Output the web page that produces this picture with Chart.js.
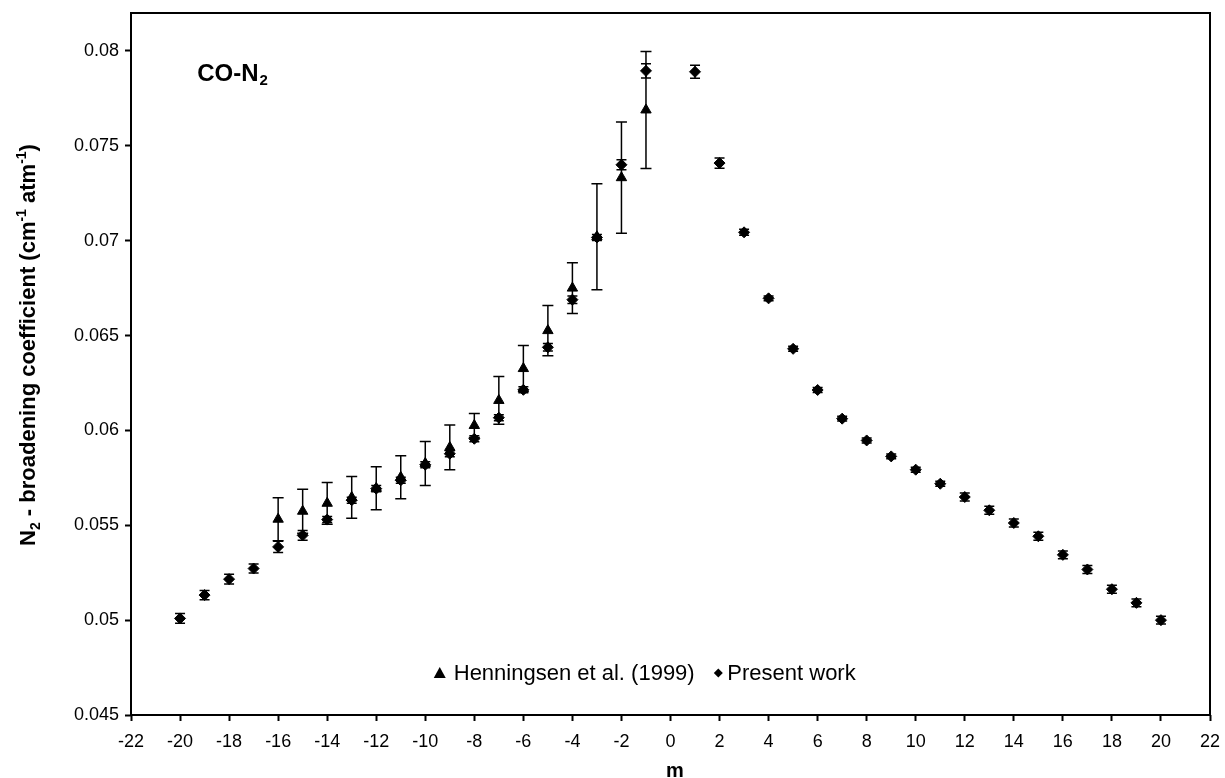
<!DOCTYPE html>
<html lang="en">
<head>
  <meta charset="UTF-8">
  <title>CO-N2 broadening coefficients</title>
  <script src="https://cdn.jsdelivr.net/npm/chart.js"></script>
  <style>
    html, body { margin: 0; padding: 0; background: #fff; }
    #wrap { width: 1225px; height: 778px; }
  </style>
</head>
<body>
<div id="wrap"><canvas id="chart" width="1225" height="778"></canvas></div>

<script>
// rotational index m
const mPresent = [-20, -19, -18, -17, -16, -15, -14, -13, -12, -11, -10, -9, -8, -7, -6, -5, -4, -3, -2, -1,
                  1, 2, 3, 4, 5, 6, 7, 8, 9, 10, 11, 12, 13, 14, 15, 16, 17, 18, 19, 20];
// present work: N2-broadening coefficient (cm-1 atm-1) and its uncertainty
const gPresent = [0.05009, 0.05132, 0.05216, 0.05272, 0.05386, 0.05447, 0.0553, 0.05632, 0.05693, 0.05737,
                  0.05819, 0.05877, 0.05956, 0.06067, 0.06214, 0.06438, 0.06689, 0.07017, 0.074, 0.07895,
                  0.0789, 0.07409, 0.07044, 0.06696, 0.0643, 0.06213, 0.06062, 0.05947, 0.05863, 0.05793,
                  0.05719, 0.05649, 0.05579, 0.05512, 0.05442, 0.05344, 0.05267, 0.05163, 0.05091, 0.05];
const ePresent = [0.00026, 0.00024, 0.00026, 0.00024, 0.0003, 0.00026, 0.00016, 0.00016, 0.00016, 0.00016,
                  0.00016, 0.00016, 0.00016, 0.00016, 0.00016, 0.0002, 0.0002, 0.00016, 0.00026, 0.00037,
                  0.00034, 0.00027, 0.00016, 0.00013, 0.00013, 0.00013, 0.00013, 0.00013, 0.00013, 0.00013,
                  0.00013, 0.00021, 0.00021, 0.00021, 0.00021, 0.00021, 0.00021, 0.00021, 0.00021, 0.00021];

// Henningsen et al. (1999)
const mHenn = [-16, -15, -14, -13, -12, -11, -10, -9, -8, -7, -6, -5, -4, -3, -2, -1];
const gHenn = [0.05532, 0.05574, 0.05616, 0.05647, 0.05695, 0.05753, 0.05826, 0.0591, 0.06026, 0.06158,
               0.06326, 0.06526, 0.0675, 0.07021, 0.07332, 0.07689];
const eHenn = [0.00113, 0.00116, 0.0011, 0.0011, 0.00113, 0.00113, 0.00116, 0.00118, 0.00063, 0.00126,
               0.00121, 0.00132, 0.00134, 0.00279, 0.00293, 0.00308];

const xTicks = [-22, -20, -18, -16, -14, -12, -10, -8, -6, -4, -2, 0, 2, 4, 6, 8, 10, 12, 14, 16, 18, 20, 22];
const yTicks = [0.045, 0.05, 0.055, 0.06, 0.065, 0.07, 0.075, 0.08];

const FONT = 'Arial, "Liberation Sans", sans-serif';

// vertical error bars, drawn under the markers
const errorBars = {
  id: 'errorBars',
  beforeDatasetsDraw(chart) {
    const ctx = chart.ctx;
    const y = chart.scales.y;
    ctx.save();
    ctx.strokeStyle = '#000';
    ctx.lineWidth = 1.5;
    chart.data.datasets.forEach((ds, i) => {
      const meta = chart.getDatasetMeta(i);
      meta.data.forEach((pt, j) => {
        const v = ds.data[j].y, e = ds.errors[j];
        const top = y.getPixelForValue(v + e);
        const bot = y.getPixelForValue(v - e);
        const w = ds.capWidth;
        ctx.beginPath();
        ctx.moveTo(pt.x, top); ctx.lineTo(pt.x, bot);
        ctx.moveTo(pt.x - w, top); ctx.lineTo(pt.x + w, top);
        ctx.moveTo(pt.x - w, bot); ctx.lineTo(pt.x + w, bot);
        ctx.stroke();
      });
    });
    ctx.restore();
  }
};

// draws text pieces with sub/superscripts, centred on (0,0)
function richText(ctx, parts, size, weight) {
  const small = Math.round(size * 0.62);
  const fontOf = p => weight + ' ' + (p.s ? small : size) + 'px ' + FONT;
  let total = 0;
  parts.forEach(p => { ctx.font = fontOf(p); total += ctx.measureText(p.t).width; });
  let x = -total / 2;
  ctx.textBaseline = 'alphabetic';
  ctx.textAlign = 'left';
  parts.forEach(p => {
    ctx.font = fontOf(p);
    const dy = p.s === 'sub' ? size * 0.22 : p.s === 'sup' ? -size * 0.4 : 0;
    ctx.fillText(p.t, x, dy + size * 0.35);
    x += ctx.measureText(p.t).width;
  });
}

const decorations = {
  id: 'decorations',
  afterDraw(chart) {
    const ctx = chart.ctx;
    const a = chart.chartArea;
    const xs = chart.scales.x, ys = chart.scales.y;
    ctx.save();
    ctx.fillStyle = '#000';
    ctx.strokeStyle = '#000';

    // plot frame
    ctx.lineWidth = 2;
    ctx.strokeRect(a.left, a.top, a.right - a.left, a.bottom - a.top);

    // y axis title
    ctx.save();
    ctx.translate(27, 345);
    ctx.rotate(-Math.PI / 2);
    richText(ctx, [
      { t: 'N' }, { t: '2', s: 'sub' }, { t: ' - broadening coefficient (cm' }, { t: '-1', s: 'sup' },
      { t: ' atm' }, { t: '-1', s: 'sup' }, { t: ')' }
    ], 22, 'bold');
    ctx.restore();

    // x axis title
    ctx.save();
    ctx.translate(675, 770);
    richText(ctx, [{ t: 'm' }], 20, 'bold');
    ctx.restore();

    // CO-N2 label
    ctx.textAlign = 'left';
    ctx.textBaseline = 'alphabetic';
    ctx.font = 'bold 24px ' + FONT;
    const lx = xs.getPixelForValue(-19.3), ly = ys.getPixelForValue(0.0784);
    ctx.fillText('CO-N', lx, ly);
    const w = ctx.measureText('CO-N').width;
    ctx.font = 'bold 15px ' + FONT;
    ctx.fillText('2', lx + w + 1, ly + 4);

    // legend inside plot
    const gy = ys.getPixelForValue(0.04722);
    let gx = xs.getPixelForValue(-9.41);
    ctx.font = '22px ' + FONT;
    ctx.textBaseline = 'middle';
    ctx.beginPath();
    ctx.moveTo(gx, gy - 6); ctx.lineTo(gx + 6, gy + 5); ctx.lineTo(gx - 6, gy + 5); ctx.closePath();
    ctx.fill();
    ctx.fillText('Henningsen et al. (1999)', gx + 14, gy + 1);
    gx = xs.getPixelForValue(1.95);
    ctx.beginPath();
    ctx.moveTo(gx, gy - 4.5); ctx.lineTo(gx + 4.5, gy); ctx.lineTo(gx, gy + 4.5); ctx.lineTo(gx - 4.5, gy); ctx.closePath();
    ctx.fill();
    ctx.fillText('Present work', gx + 9, gy + 1);

    ctx.restore();
  }
};

const ctx = document.getElementById('chart').getContext('2d');
new Chart(ctx, {
  type: 'scatter',
  data: {
    datasets: [
      {
        label: 'Henningsen et al. (1999)',
        data: mHenn.map((m, i) => ({ x: m, y: gHenn[i] })),
        errors: eHenn,
        capWidth: 5.5,
        pointStyle: 'triangle',
        pointRadius: 6,
        backgroundColor: '#000',
        borderColor: '#000',
        borderWidth: 1,
        order: 2
      },
      {
        label: 'Present work',
        data: mPresent.map((m, i) => ({ x: m, y: gPresent[i] })),
        errors: ePresent,
        capWidth: 5,
        pointStyle: 'rectRot',
        pointRadius: 5.5,
        backgroundColor: '#000',
        borderColor: '#000',
        borderWidth: 1,
        order: 1
      }
    ]
  },
  options: {
    responsive: false,
    animation: false,
    layout: { padding: { left: 0, right: 15, top: 13, bottom: 0 } },
    plugins: {
      legend: { display: false },
      tooltip: { enabled: false }
    },
    scales: {
      x: {
        type: 'linear',
        min: -22,
        max: 22,
        afterBuildTicks: s => { s.ticks = xTicks.map(v => ({ value: v })); },
        afterFit: s => { s.height = 63; s.paddingLeft = 0; s.paddingRight = 0; },
        grid: { drawOnChartArea: false, drawTicks: true, tickLength: 6, tickWidth: 2, tickColor: '#000' },
        border: { display: false },
        ticks: { color: '#000', font: { family: FONT, size: 18 }, padding: 10, maxRotation: 0, autoSkip: false }
      },
      y: {
        type: 'linear',
        min: 0.045,
        max: 0.082,
        afterBuildTicks: s => { s.ticks = yTicks.map(v => ({ value: v })); },
        afterFit: s => { s.width = 131; s.paddingTop = 0; s.paddingBottom = 0; },
        grid: { drawOnChartArea: false, drawTicks: true, tickLength: 6, tickWidth: 2, tickColor: '#000' },
        border: { display: false },
        ticks: {
          color: '#000',
          font: { family: FONT, size: 18 },
          padding: 6,
          autoSkip: false,
          callback: v => String(+v.toFixed(3))
        }
      }
    }
  },
  plugins: [errorBars, decorations]
});
</script>
</body>
</html>
